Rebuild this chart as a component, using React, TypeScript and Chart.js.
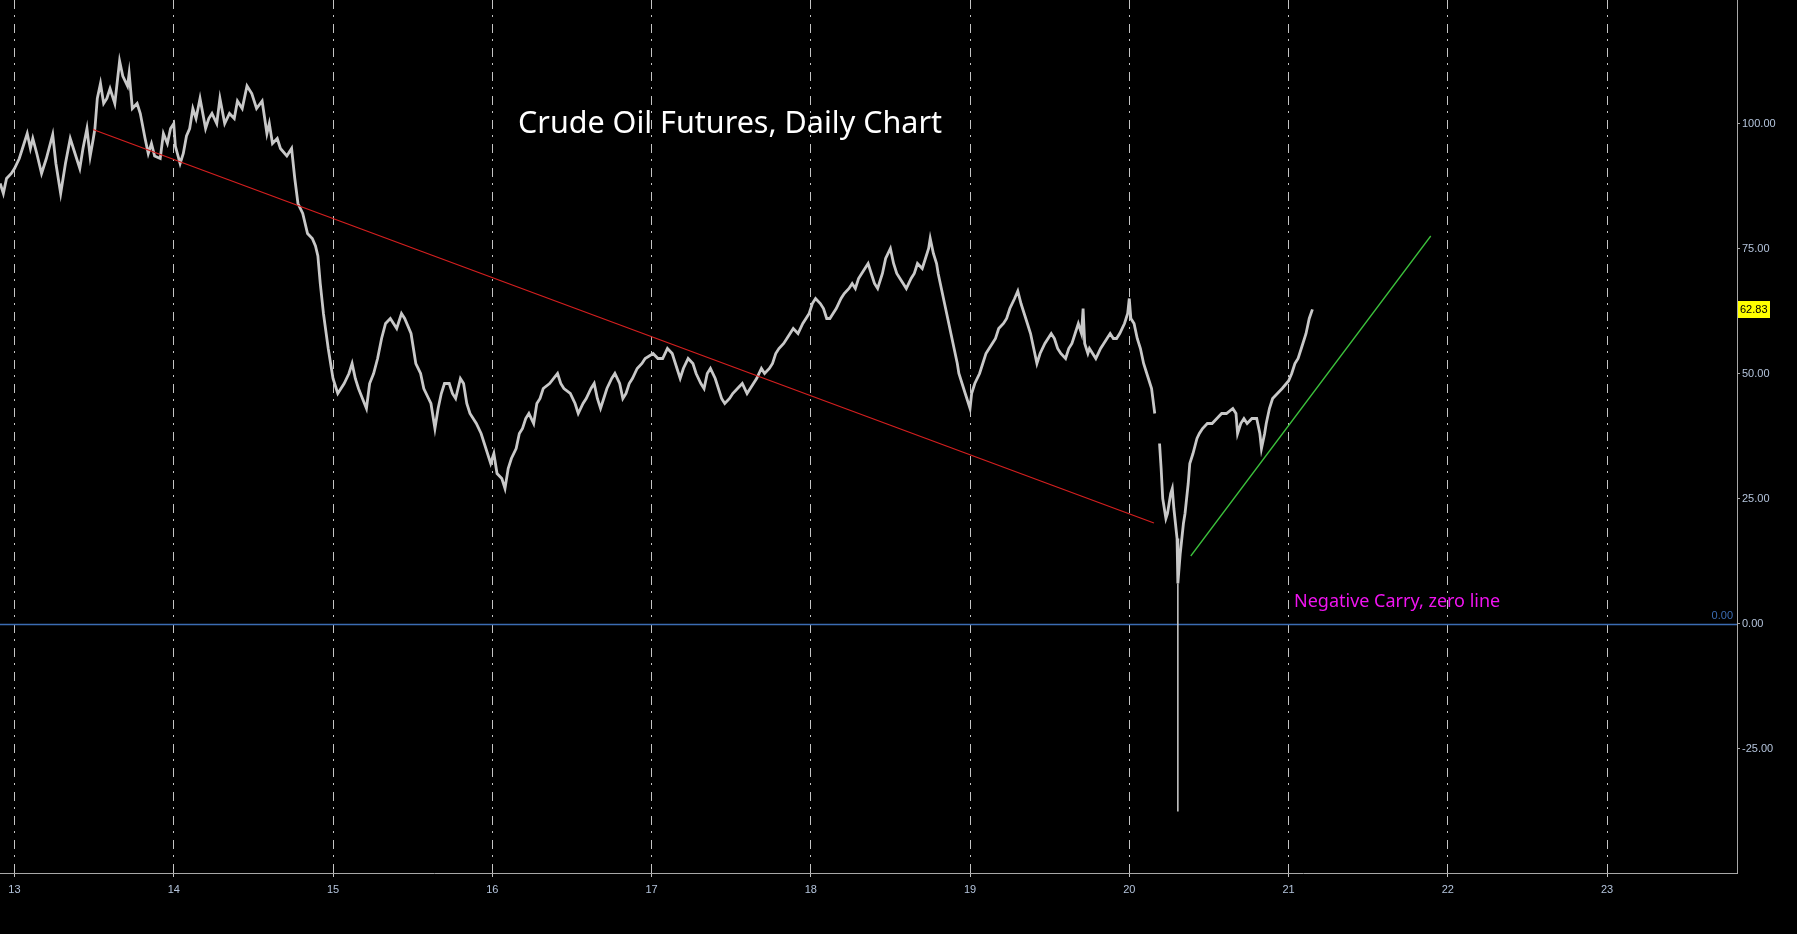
import React, { useEffect, useRef } from "react";
import { Chart, registerables } from "chart.js";

Chart.register(...registerables);

// ---- data ----
const xTickValues = [13, 14, 15, 16, 17, 18, 19, 20, 21, 22, 23];
const yTickValues = [-25, 0, 25, 50, 75, 100];
const xMin = 12.909;
const xMax = 23.816;
const yMin = -49.9;
const yMax = 124.7;

const priceYears: number[] = [
  12.91, 12.93, 12.95, 12.98, 13.0, 13.03, 13.05, 13.08, 13.1, 13.115, 13.14, 13.17, 13.2, 13.24, 13.26, 13.29,
  13.32, 13.35, 13.38, 13.41, 13.43, 13.455, 13.475, 13.495, 13.505, 13.52, 13.54, 13.56, 13.58, 13.6, 13.63,
  13.66, 13.68, 13.71, 13.72, 13.74, 13.77, 13.79, 13.82, 13.84, 13.86, 13.88, 13.915, 13.935, 13.96, 13.98,
  14.0, 14.01, 14.04, 14.06, 14.08, 14.1, 14.12, 14.14, 14.165, 14.2, 14.22, 14.24, 14.27, 14.29, 14.32, 14.35,
  14.38, 14.4, 14.43, 14.46, 14.49, 14.52, 14.555, 14.585, 14.6, 14.62, 14.65, 14.67, 14.71, 14.74, 14.76, 14.78,
  14.81, 14.84, 14.87, 14.89, 14.905, 14.92, 14.94, 14.97,
  15.0, 15.03, 15.07, 15.1, 15.12, 15.14, 15.16, 15.21, 15.23, 15.255, 15.28, 15.305, 15.33, 15.36, 15.4, 15.43,
  15.45, 15.49, 15.52, 15.55, 15.57, 15.6, 15.615, 15.64, 15.66, 15.68, 15.7, 15.73, 15.75, 15.77, 15.8, 15.82,
  15.84, 15.86, 15.9, 15.93, 15.95, 15.99,
  16.01, 16.03, 16.06, 16.08, 16.1, 16.12, 16.15, 16.17, 16.19, 16.21, 16.23, 16.26, 16.28, 16.3, 16.32, 16.36,
  16.41, 16.43, 16.45, 16.49, 16.52, 16.54, 16.57, 16.59, 16.62, 16.64, 16.66, 16.68, 16.7, 16.72, 16.75, 16.77,
  16.8, 16.82, 16.84, 16.86, 16.88, 16.91, 16.94, 16.96,
  17.01, 17.04, 17.07, 17.1, 17.13, 17.16, 17.18, 17.2, 17.23, 17.26, 17.28, 17.31, 17.33, 17.35, 17.37, 17.4,
  17.42, 17.44, 17.46, 17.49, 17.51, 17.54, 17.57, 17.6, 17.62, 17.64, 17.66, 17.69, 17.71, 17.74, 17.76, 17.78,
  17.8, 17.83, 17.85, 17.87, 17.89, 17.92, 17.95, 17.97, 17.99,
  18.01, 18.03, 18.06, 18.08, 18.1, 18.12, 18.14, 18.16, 18.19, 18.21, 18.24, 18.26, 18.28, 18.3, 18.32, 18.34,
  18.36, 18.38, 18.4, 18.42, 18.45, 18.47, 18.5, 18.52, 18.54, 18.56, 18.58, 18.6, 18.63, 18.65, 18.67, 18.7,
  18.72, 18.74, 18.75, 18.77, 18.79, 18.8, 18.82, 18.84, 18.86, 18.88, 18.9, 18.92, 18.93, 18.95, 18.97,
  19.0, 19.01, 19.03, 19.06, 19.08, 19.1, 19.12, 19.14, 19.16, 19.18, 19.21, 19.23, 19.25, 19.28, 19.3, 19.32,
  19.34, 19.36, 19.38, 19.4, 19.42, 19.44, 19.47, 19.49, 19.51, 19.53, 19.55, 19.57, 19.6, 19.62, 19.64, 19.66,
  19.68, 19.7, 19.71, 19.72, 19.74, 19.75, 19.77, 19.79, 19.82, 19.84, 19.86, 19.88, 19.9, 19.92, 19.94, 19.97,
  19.99,
  20.0, 20.01, 20.03, 20.05, 20.07, 20.09, 20.1, 20.12, 20.14, 20.16, 20.175, 20.19, 20.2, 20.21, 20.23, 20.24,
  20.26, 20.27, 20.28, 20.29, 20.3, 20.305, 20.32, 20.33, 20.34, 20.35, 20.36, 20.37, 20.38, 20.4, 20.425, 20.44,
  20.46, 20.49, 20.52, 20.55, 20.58, 20.61, 20.65, 20.67, 20.68, 20.7, 20.72, 20.74, 20.77, 20.8, 20.82, 20.83,
  20.85, 20.86, 20.88, 20.9, 20.93, 20.96,
  21.0, 21.02, 21.04, 21.06, 21.08, 21.1, 21.11, 21.13, 21.15,
];

const priceValues: (number | null)[] = [
  88, 86, 89, 90, 91, 93, 95, 98, 95, 97, 94, 90, 93, 97.8, 92, 86,
  92, 97, 94, 91, 95, 99, 93.4, 97, 99, 105, 108, 104, 105, 107, 104,
  112.5, 109.5, 107.5, 110, 103, 104, 102, 97, 94, 96, 93.5, 93, 98, 96, 99,
  100, 95.5, 92, 94, 97.5, 99, 103, 101, 105, 99, 101, 102, 100, 105, 100, 102,
  101, 104.5, 103, 107.5, 106, 103, 104.5, 98, 100, 96, 97, 95, 93.5, 95, 89, 84,
  82, 78, 77, 75.5, 73.5, 68, 62, 55,
  49, 46, 48, 50, 52, 49, 47, 43, 48, 50, 53, 57, 60, 61, 59, 62,
  61, 58, 52, 50, 47, 45, 44, 39, 43, 46, 48, 48, 46, 45, 49, 48,
  44, 42, 40, 38, 36, 32,
  34, 30, 29, 27, 31, 33, 35, 38, 39, 41, 42, 40, 44, 45, 47, 48,
  50, 48, 47, 46, 44, 42, 44, 45, 47, 48, 45, 43, 45, 47, 49, 50,
  48, 45, 46, 48, 49, 51, 52, 53,
  54, 53, 53, 55, 54, 51, 49, 51, 53, 52, 50, 48, 47, 50, 51, 49,
  47, 45, 44, 45, 46, 47, 48, 46, 47, 48, 49, 51, 50, 51, 52, 54,
  55, 56, 57, 58, 59, 58, 60, 61, 62,
  64, 65, 64, 63, 61, 61, 62, 63, 65, 66, 67, 68, 67, 69, 70, 71,
  72, 70, 68, 67, 70, 73, 75, 72, 70, 69, 68, 67, 69, 70, 72, 71,
  73, 75, 77, 74, 72, 70, 67, 64, 61, 58, 55, 52, 50, 48, 46,
  43, 46, 48, 50, 52, 54, 55, 56, 57, 59, 60, 61, 63, 65, 66.5, 64,
  62, 60, 58, 55, 52, 54, 56, 57, 58, 57, 55, 54, 53, 55, 56, 58,
  60, 58, 63, 56, 54, 55, 54, 53, 55, 56, 57, 58, 57, 57, 58, 60,
  62,
  65, 61, 60, 57, 55, 52, 51, 49, 47, 42, null, 36, 31, 25, 21, 22,
  26, 27, 23, 20, 17, 8, 14, 17, 20, 22, 25, 28, 32, 34, 37, 38,
  39, 40, 40, 41, 42, 42, 43, 42, 38, 40, 41, 40, 41, 41, 38, 35,
  38, 40, 43, 45, 46, 47,
  48.5, 50, 52, 53, 55, 57, 58, 61, 62.83,
];

// April 2020 negative print
const spikeYears = [20.305, 20.305];
const spikeValues = [8, -37.6];

// trend lines
const downTrendYears = [13.493, 20.155];
const downTrendValues = [98.8, 20.1];
const upTrendYears = [20.386, 21.893];
const upTrendValues = [13.5, 77.5];

const zeroLevel = 0;
const lastPrice = 62.83;
const titleText = "Crude Oil Futures, Daily Chart";
const noteText = "Negative Carry, zero line";

const pts = (xs: number[], ys: (number | null)[]) => xs.map((x, i) => ({ x, y: ys[i] }));

const tickColor = "#b4c4dc";
const axisFont = { family: "'Liberation Sans', Arial, sans-serif", size: 11 };

const overlayPlugin = {
  id: "overlay",
  beforeDatasetsDraw(chart: any) {
    const { ctx, chartArea, scales } = chart;
    const y = scales.y;
    const py = Math.round(y.getPixelForValue(zeroLevel)) + 0.5;
    ctx.save();
    ctx.strokeStyle = "#3b6cb3";
    ctx.lineWidth = 1.3;
    ctx.beginPath();
    ctx.moveTo(chartArea.left, py);
    ctx.lineTo(chartArea.right, py);
    ctx.stroke();
    ctx.fillStyle = "#3b6cb3";
    ctx.font = "11px 'Liberation Sans', Arial, sans-serif";
    ctx.textAlign = "right";
    ctx.textBaseline = "bottom";
    ctx.fillText(zeroLevel.toFixed(2), chartArea.right - 4, py - 3);
    ctx.restore();
  },
  afterDraw(chart: any) {
    const { ctx, chartArea, scales } = chart;
    const y = scales.y;
    ctx.save();
    // title
    ctx.fillStyle = "#ffffff";
    ctx.font = "30.5px 'Noto Sans', 'Open Sans', sans-serif";
    ctx.textAlign = "center";
    ctx.textBaseline = "middle";
    ctx.fillText(titleText, 730, 124);
    // note
    ctx.fillStyle = "#f014f0";
    ctx.font = "18px 'Noto Sans', 'Open Sans', sans-serif";
    ctx.textAlign = "left";
    ctx.fillText(noteText, 1294, 602);
    // last price tag
    const py = Math.round(y.getPixelForValue(lastPrice));
    const bx = chartArea.right + 1;
    ctx.fillStyle = "#ffff00";
    ctx.fillRect(bx, py - 8, 32, 17);
    ctx.fillStyle = "#000000";
    ctx.font = "11px 'Liberation Sans', Arial, sans-serif";
    ctx.textAlign = "left";
    ctx.textBaseline = "middle";
    ctx.fillText(lastPrice.toFixed(2), bx + 2, py + 1);
    ctx.restore();
  },
};

export default function App() {
  const canvasRef = useRef<HTMLCanvasElement | null>(null);

  useEffect(() => {
    document.body.style.margin = "0";
    document.body.style.background = "#000";
    const canvas = canvasRef.current!;
    const chart = new Chart(canvas, {
      type: "line",
      data: {
        datasets: [
          {
            data: pts(downTrendYears, downTrendValues),
            borderColor: "#d41f1f",
            borderWidth: 1.3,
            pointRadius: 0,
            tension: 0,
          },
          {
            data: pts(upTrendYears, upTrendValues),
            borderColor: "#3cc23c",
            borderWidth: 1.3,
            pointRadius: 0,
            tension: 0,
          },
          {
            data: pts(spikeYears, spikeValues),
            borderColor: "#cfcfcf",
            borderWidth: 1.5,
            pointRadius: 0,
          },
          {
            data: pts(priceYears, priceValues),
            borderColor: "#c8c8c8",
            borderWidth: 2.8,
            pointRadius: 0,
            tension: 0,
            spanGaps: false,
          },
        ],
      },
      options: {
        responsive: false,
        animation: false,
        events: [],
        layout: { padding: 0 },
        plugins: { legend: { display: false }, tooltip: { enabled: false }, title: { display: false } },
        scales: {
          x: {
            type: "linear",
            min: xMin,
            max: xMax,
            afterFit: (axis: any) => {
              axis.height = 61;
              axis.paddingLeft = 0;
              axis.paddingRight = 0;
            },
            afterBuildTicks: (axis: any) => {
              axis.ticks = xTickValues.map((v) => ({ value: v }));
            },
            ticks: {
              color: tickColor,
              font: axisFont,
              padding: 6,
              maxRotation: 0,
              autoSkip: false,
              callback: (v: any) => String(v),
            },
            grid: {
              color: "#c4c4c4",
              lineWidth: 1,
              drawTicks: true,
              tickLength: 4,
            },
            border: { display: true, color: "#a8a8a8", width: 1, dash: [9, 6, 2, 7] },
          },
          y: {
            type: "linear",
            position: "right",
            min: yMin,
            max: yMax,
            afterFit: (axis: any) => {
              axis.width = 60;
              axis.paddingTop = 0;
              axis.paddingBottom = 0;
            },
            afterBuildTicks: (axis: any) => {
              axis.ticks = yTickValues.map((v) => ({ value: v }));
            },
            ticks: {
              color: tickColor,
              font: axisFont,
              padding: 2,
              autoSkip: false,
              callback: (v: any) => Number(v).toFixed(2),
            },
            grid: {
              drawOnChartArea: false,
              drawTicks: true,
              tickLength: 3,
              color: "#a8a8a8",
            },
            border: { display: true, color: "#a8a8a8", width: 1 },
          },
        },
      },
      plugins: [overlayPlugin],
    });
    return () => chart.destroy();
  }, []);

  return (
    <div style={{ position: "absolute", left: 0, top: 0, width: 1797, height: 934, background: "#000" }}>
      <canvas ref={canvasRef} width={1797} height={934} style={{ width: 1797, height: 934, display: "block" }} />
    </div>
  );
}
